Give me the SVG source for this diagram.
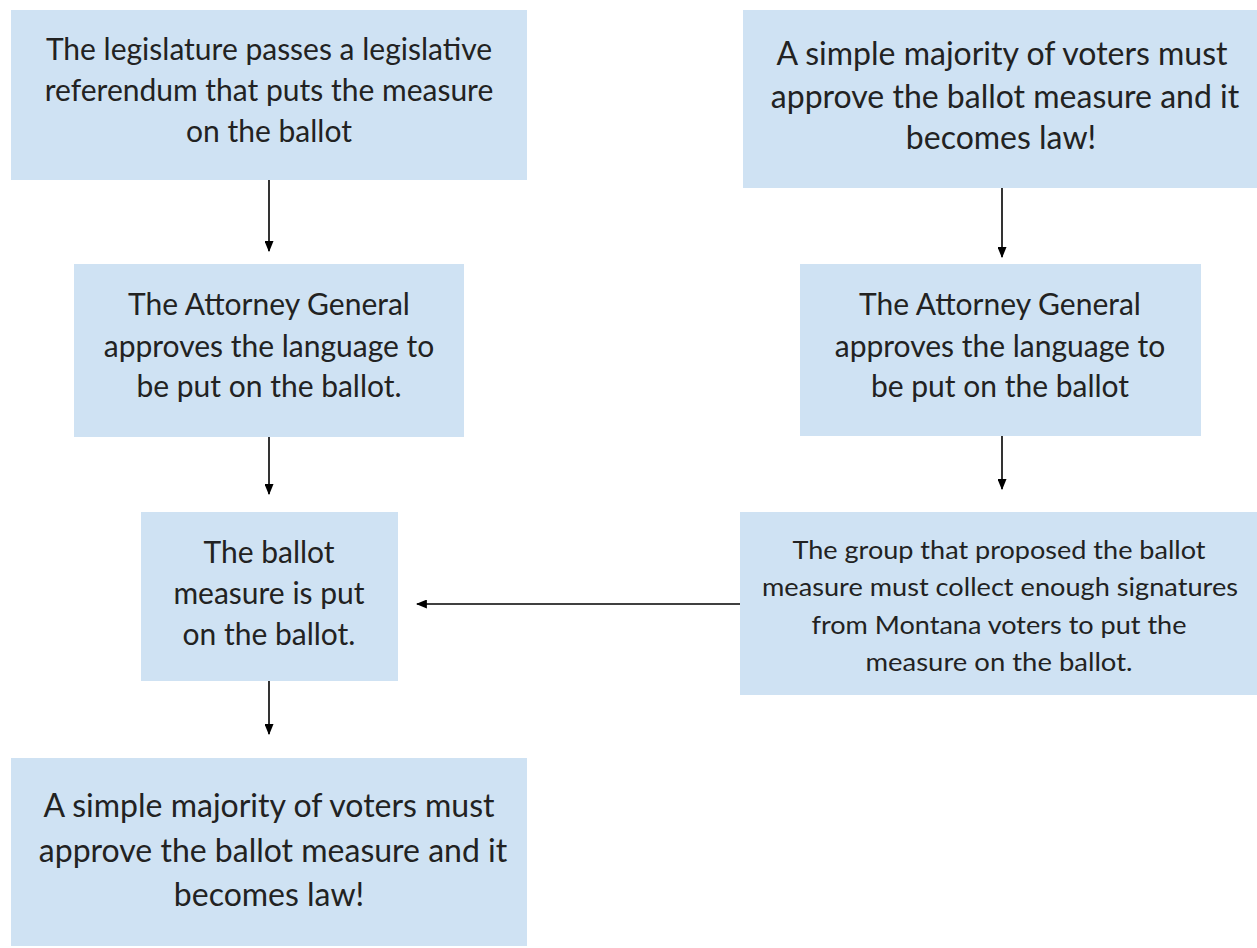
<svg xmlns="http://www.w3.org/2000/svg" width="1257" height="948" viewBox="0 0 1257 948">
<style>
.box{fill:#cfe2f3}
.t{font-family:Lato,"Open Sans","Liberation Sans",sans-serif;font-size:30px;fill:#222;text-anchor:middle}
.l{font-size:32px}
.s{font-size:25px}
.c{stroke:#000;stroke-width:1.6;fill:none;marker-end:url(#ah)}
</style>
<defs>
<marker id="ah" viewBox="0 0 10 10" refX="9" refY="5" markerWidth="11" markerHeight="9" markerUnits="userSpaceOnUse" orient="auto" preserveAspectRatio="none">
<path d="M0,0 L10,5 L0,10 z" fill="#000"/>
</marker>
</defs>
<rect width="1257" height="948" fill="#fff"/>
<g id="connectors">
<line class="c" x1="269" y1="180" x2="269" y2="251"/>
<line class="c" x1="269" y1="437" x2="269" y2="494"/>
<line class="c" x1="269" y1="681" x2="269" y2="734"/>
<line class="c" x1="1002" y1="188" x2="1002" y2="257"/>
<line class="c" x1="1002" y1="436" x2="1002" y2="489"/>
<line class="c" x1="740" y1="604" x2="417" y2="604"/>
</g>
<g id="n1">
<rect class="box" x="11" y="10" width="516" height="170"/>
<text class="t" x="269" y="60">The legislature passes a legislative</text>
<text class="t" x="269" y="101">referendum that puts the measure</text>
<text class="t" x="269" y="142">on the ballot</text>
</g>
<g id="n2">
<rect class="box" x="74" y="264" width="390" height="173"/>
<text class="t" x="269" y="315">The Attorney General</text>
<text class="t" x="269" y="357">approves the language to</text>
<text class="t" x="269" y="397">be put on the ballot.</text>
</g>
<g id="n3">
<rect class="box" x="141" y="512" width="257" height="169"/>
<text class="t" x="269" y="563">The ballot</text>
<text class="t" x="269" y="604">measure is put</text>
<text class="t" x="269" y="645">on the ballot.</text>
</g>
<g id="n4">
<rect class="box" x="11" y="758" width="516" height="188"/>
<text class="t l" x="269" y="817">A simple majority of voters must</text>
<text class="t l" x="273" y="862">approve the ballot measure and it</text>
<text class="t l" x="269" y="906">becomes law!</text>
</g>
<g id="n5">
<rect class="box" x="743" y="10" width="514" height="178"/>
<text class="t l" x="1002" y="65">A simple majority of voters must</text>
<text class="t l" x="1005" y="108">approve the ballot measure and it</text>
<text class="t l" x="1001" y="149">becomes law!</text>
</g>
<g id="n6">
<rect class="box" x="800" y="264" width="401" height="172"/>
<text class="t" x="1000" y="315">The Attorney General</text>
<text class="t" x="1000" y="357">approves the language to</text>
<text class="t" x="1000" y="397">be put on the ballot</text>
</g>
<g id="n7">
<rect class="box" x="740" y="512" width="517" height="183"/>
<text class="t s" x="999" y="559" textLength="413" lengthAdjust="spacingAndGlyphs">The group that proposed the ballot</text>
<text class="t s" x="1000" y="596" textLength="476" lengthAdjust="spacingAndGlyphs">measure must collect enough signatures</text>
<text class="t s" x="999" y="634" textLength="375" lengthAdjust="spacingAndGlyphs">from Montana voters to put the</text>
<text class="t s" x="999" y="671" textLength="267" lengthAdjust="spacingAndGlyphs">measure on the ballot.</text>
</g>
</svg>
